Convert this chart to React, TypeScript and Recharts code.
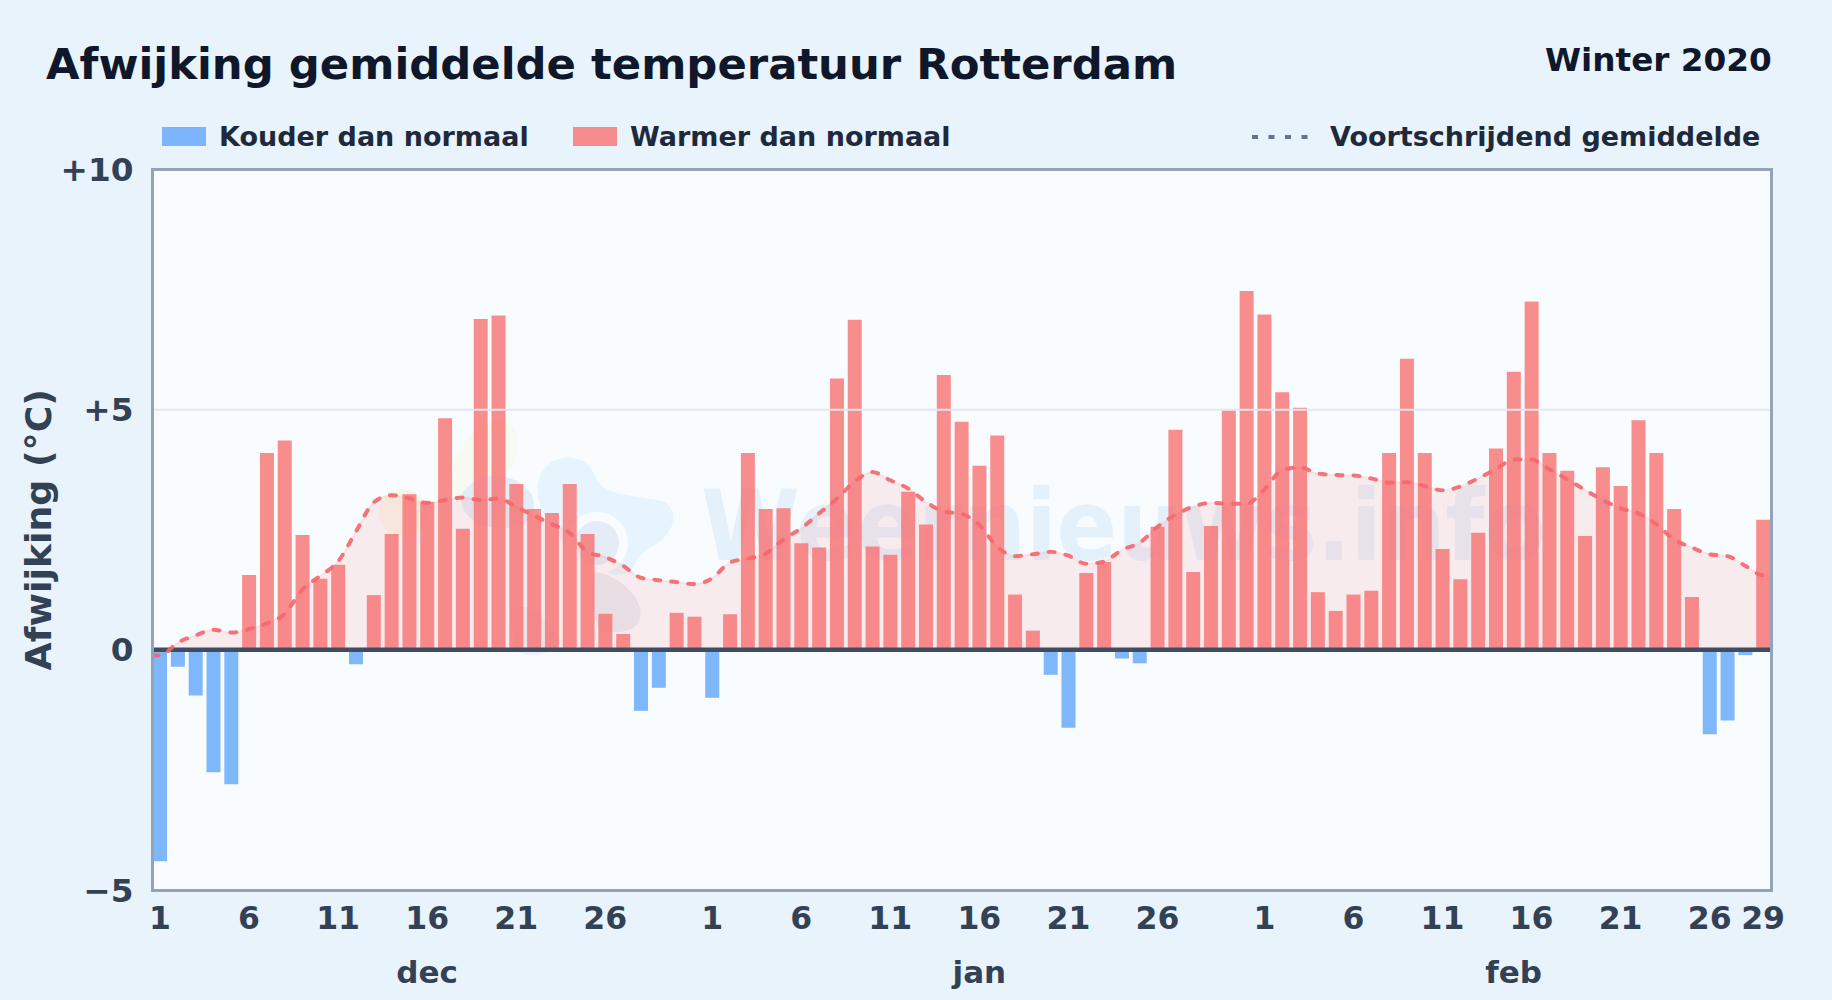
import React from "react";
import { ComposedChart, Bar, Cell, Line, Area, XAxis, YAxis, ReferenceLine } from "recharts";

const title = "Afwijking gemiddelde temperatuur Rotterdam";
const subtitle = "Winter 2020";
const legendCold = "Kouder dan normaal";
const legendWarm = "Warmer dan normaal";
const legendAvg = "Voortschrijdend gemiddelde";
const yLabel = "Afwijking (°C)";

const dec = [-4.4,-0.35,-0.95,-2.55,-2.8,1.56,4.1,4.36,2.39,1.48,1.77,-0.3,1.14,2.41,3.24,3.08,4.82,2.52,6.89,6.96,3.45,2.93,2.85,3.45,2.41,0.75,0.33,-1.27,-0.79,0.77,0.69];
const jan = [-1.0,0.74,4.1,2.93,2.95,2.22,2.13,5.65,6.87,2.15,1.98,3.29,2.61,5.72,4.75,3.83,4.46,1.15,0.4,-0.52,-1.62,1.6,1.83,-0.18,-0.28,2.56,4.58,1.62,2.58,4.99,7.47];
const feb = [6.98,5.36,5.04,1.2,0.81,1.15,1.23,4.1,6.06,4.1,2.1,1.47,2.44,4.19,5.79,7.25,4.1,3.73,2.37,3.8,3.41,4.78,4.1,2.93,1.1,-1.76,-1.47,-0.11,2.71];
const movingAvg = [-0.12,0.15,0.3,0.42,0.36,0.43,0.55,0.75,1.26,1.54,1.84,2.46,3.07,3.22,3.15,3.06,3.12,3.17,3.12,3.15,2.98,2.79,2.62,2.43,2.04,1.93,1.75,1.5,1.45,1.41,1.37,1.49,1.82,1.9,2.0,2.3,2.53,2.84,3.15,3.5,3.7,3.53,3.36,3.08,2.88,2.83,2.6,2.15,1.95,1.99,2.04,1.96,1.79,1.84,2.08,2.23,2.56,2.81,2.98,3.06,3.04,3.04,3.34,3.74,3.8,3.67,3.64,3.63,3.57,3.48,3.49,3.41,3.32,3.4,3.57,3.76,3.96,3.96,3.76,3.55,3.33,3.12,2.95,2.84,2.62,2.3,2.13,1.99,1.95,1.75,1.55];
const edgeStart = -0.12;
const edgeEnd = 1.55;

const dayTicks = [1,6,11,16,21,26,32,37,42,47,52,57,63,68,73,78,83,88,91];
const dayLabels = ["1","6","11","16","21","26","1","6","11","16","21","26","1","6","11","16","21","26","29"];
const monthTicks = [16,47,77];
const monthLabels = ["dec","jan","feb"];
const yTicks = [-5,0,5,10];
const yLabels = ["−5","0","+5","+10"];

const values = [...dec, ...jan, ...feb];
const barRows = values.map((v, i) => ({ pos: i + 1, value: v }));
const DOMAIN: [number, number] = [0.58, 91.5];
const avgRows = [
  { pos: DOMAIN[0], avg: edgeStart, band: [0, edgeStart] },
  ...movingAvg.map((v, i) => ({ pos: i + 1, avg: v, band: [0, v] })),
  { pos: DOMAIN[1], avg: edgeEnd, band: [0, edgeEnd] },
];

const FONT = "'DejaVu Sans', sans-serif";
const RED = "#f87171";
const BLUE = "#60a5fa";
const INK = "#334155";

const abs = (left: number, top: number, extra: any = {}): any => ({ position: "absolute", left, top, whiteSpace: "nowrap", fontFamily: FONT, fontWeight: 700, ...extra });

function Watermark() {
  return (
    <svg width={1832} height={1000} style={{ position: "absolute", left: 0, top: 0 }}>
      <rect x={152} y={169} width={1620} height={721} fill="#f8fcff" />
      <g>
        <path d="M452 470 C470 410 520 410 518 445 C515 480 480 500 450 495 Z" fill="#f6faf0" />
        <circle cx={403} cy={513} r={24} fill="#f6f6ea" />
        <path d="M540 476 C550 452 585 450 595 476 C605 500 640 494 665 502 C680 512 675 535 650 548 C632 556 640 575 615 575 C580 565 525 515 540 476 Z" fill="#e6f4fd" />
        <path d="M463 492 C480 470 515 470 532 495 C540 515 525 530 500 528 C475 528 455 510 463 492 Z" fill="#e4edf7" />
        <circle cx={597} cy={543} r={31} fill="#f9fcff" />
        <circle cx={597} cy={543} r={22} fill="#e4edf7" />
        <path d="M595 572 C620 575 645 600 640 618 C635 635 615 632 600 632 C590 610 590 590 595 572 Z" fill="#e8ecf4" />
        <path d="M510 610 C530 600 545 615 560 640 C550 656 530 660 515 650 Z" fill="#edf2f8" />
      </g>
      <text x={701} y={560} fontFamily={FONT} fontWeight={700} fontSize={98} fill="#e4f1fb" textLength={845} lengthAdjust="spacingAndGlyphs">Weernieuws.info</text>
    </svg>
  );
}

export default function App() {
  return (
    <div style={{ position: "fixed", left: 0, top: 0, width: 1832, height: 1000, overflow: "hidden", background: "#e9f3fc" }}>
      <Watermark />
      <div style={abs(46, 39, { fontSize: 43.35, color: "#0f172a" })}>{title}</div>
      <div style={abs(1545, 41, { fontSize: 32.7, color: "#0f172a" })}>{subtitle}</div>

      <div style={abs(162, 127, { width: 44, height: 19, background: BLUE, opacity: 0.8 })} />
      <div style={abs(219, 121, { fontSize: 27, color: "#1e293b" })}>{legendCold}</div>
      <div style={abs(573, 127, { width: 44, height: 19, background: RED, opacity: 0.8 })} />
      <div style={abs(630, 121, { fontSize: 27, color: "#1e293b" })}>{legendWarm}</div>
      <svg width={60} height={10} style={abs(1250, 132)}>
        <line x1={2} y1={5} x2={58} y2={5} stroke="#64748b" strokeWidth={4} strokeDasharray="6 10.5" />
      </svg>
      <div style={abs(1330, 121, { fontSize: 27, color: "#1e293b" })}>{legendAvg}</div>

      <div style={{ position: "absolute", left: 0, top: 0 }}>
        <ComposedChart width={1832} height={1000} data={barRows} margin={{ top: 169.5, right: 60, bottom: 0, left: 52.5 }} style={{ fontFamily: FONT, fontWeight: 700 }}>
          <XAxis xAxisId="days" dataKey="pos" type="number" domain={DOMAIN} ticks={dayTicks} interval={0} height={50} axisLine={false} tickLine={false} tickMargin={11}
            tickFormatter={(v: number) => dayLabels[dayTicks.indexOf(v)]} tick={{ fontSize: 31.5, fill: INK, fontWeight: 700 }} allowDataOverflow />
          <XAxis xAxisId="months" dataKey="pos" type="number" domain={DOMAIN} ticks={monthTicks} interval={0} height={60} axisLine={false} tickLine={false} tickMargin={15}
            tickFormatter={(v: number) => monthLabels[monthTicks.indexOf(v)]} tick={{ fontSize: 31, fill: INK, fontWeight: 700 }} allowDataOverflow />
          <XAxis xAxisId="avg" dataKey="pos" type="number" domain={DOMAIN} hide height={0} allowDataOverflow />
          <YAxis type="number" domain={[-5, 10]} ticks={yTicks} interval={0} width={100} axisLine={false} tickLine={false} tickMargin={13}
            tickFormatter={(v: number) => yLabels[yTicks.indexOf(v)]} tick={{ fontSize: 32.7, fill: INK, fontWeight: 700 }}
            label={{ value: yLabel, angle: -90, position: "insideLeft", dx: -19, dy: 0, style: { fontSize: 36.3, fill: INK, fontWeight: 700, textAnchor: "middle" } }} />
          <ReferenceLine xAxisId="days" y={5} stroke="#e2e8f0" strokeWidth={2} />
          <Area xAxisId="avg" data={avgRows} dataKey="band" type="monotone" fill={RED} fillOpacity={0.12} stroke={RED} strokeOpacity={0.12} strokeWidth={2} isAnimationActive={false} dot={false} activeDot={false} />
          <Bar xAxisId="days" dataKey="value" barSize={14} isAnimationActive={false}>
            {barRows.map((r) => (
              <Cell key={r.pos} fill={r.value < 0 ? BLUE : RED} fillOpacity={0.8} />
            ))}
          </Bar>
          <ReferenceLine xAxisId="days" y={0} stroke="#3f4c61" strokeWidth={4.5} />
          <Line xAxisId="avg" data={avgRows} dataKey="avg" type="monotone" stroke="#f4686e" strokeOpacity={0.92} strokeWidth={4} strokeDasharray="6 11" strokeLinecap="round" dot={false} activeDot={false} isAnimationActive={false} />
        </ComposedChart>
      </div>
      <div style={{ position: "absolute", left: 151, top: 168, width: 1616, height: 718, border: "3px solid #94a3b8", pointerEvents: "none" }} />
    </div>
  );
}
